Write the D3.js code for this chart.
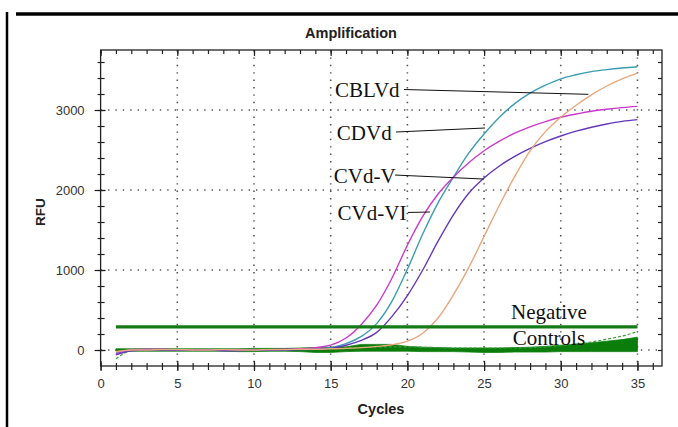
<!DOCTYPE html>
<html>
<head>
<meta charset="utf-8">
<script src="https://cdn.jsdelivr.net/npm/d3@7"></script>
<style>
  body { margin: 0; background: #fff; }
  svg { display: block; }
</style>
</head>
<body>
<script>
// cycles and RFU
var cycles = [1,2,3,4,5,6,7,8,9,10,11,12,13,14,15,16,17,18,19,20,21,22,23,24,25,26,27,28,29,30,31,32,33,34,35];

var cblvd = [-30,0,5,5,0,0,5,5,0,0,5,5,10,15,30,80,170,330,610,1010,1450,1840,2160,2460,2700,2910,3080,3210,3310,3390,3440,3480,3505,3525,3541];
var cdvd  = [-50,5,10,10,5,5,0,5,5,0,5,10,15,30,60,150,320,560,900,1310,1670,1950,2160,2340,2490,2610,2710,2790,2855,2910,2950,2985,3010,3030,3045];
var cvdV  = [-60,-10,0,0,-5,0,0,-10,-10,0,0,0,5,10,20,60,120,220,420,680,1000,1360,1690,1960,2150,2300,2420,2520,2605,2675,2735,2785,2825,2858,2880];
var cvdVI = [-20,0,0,5,5,0,0,5,0,0,5,5,10,10,15,20,30,45,65,110,210,400,690,1030,1420,1810,2170,2490,2730,2910,3060,3190,3300,3390,3460];

// negative controls: band low / high and the thin dashed one
var negLow  = [-15,-15,-15,-15,-15,-15,-15,-15,-20,-20,-15,-15,-20,-30,-30,-20,-15,-15,-15,-15,-20,-20,-20,-25,-30,-30,-25,-25,-25,-20,-20,-20,-20,-20,-20];
var negHigh = [15,15,15,15,15,15,15,15,15,20,20,20,25,30,35,40,70,70,70,45,35,30,25,25,25,25,30,35,45,60,75,90,110,130,160];
var negDash = [-110,-10,0,5,5,5,0,0,5,5,5,5,10,15,20,25,30,35,40,40,35,30,25,25,25,25,25,30,40,55,75,100,135,175,230];

var threshold = 290;

var xTicks = [0,5,10,15,20,25,30,35];
var yTicks = [0,1000,2000,3000];

var series = [
  {name: "CBLVd", values: cblvd, color: "#3a9db0"},
  {name: "CDVd", values: cdvd, color: "#cc3acc"},
  {name: "CVd-V", values: cvdV, color: "#6438bb"},
  {name: "CVd-VI", values: cvdVI, color: "#e9a77c"}
];

// label text, where the pointer starts and where it lands (cycle, RFU)
var labels = [
  {text: "CBLVd",  tx: 15.28, from: [19.78, 3256], to: [31.8, 3196]},
  {text: "CDVd",   tx: 15.4,  from: [19.26, 2725], to: [25.06, 2775]},
  {text: "CVd-V",  tx: 15.2,  from: [19.19, 2187], to: [24.99, 2137]},
  {text: "CVd-VI", tx: 15.45, from: [20.04, 1719], to: [21.47, 1725]}
];

var W = 678, H = 427;
var svg = d3.select("body").append("svg")
  .attr("width", W)
  .attr("height", H)

var x = d3.scaleLinear().domain([0, 36.6]).range([100.6, 662]);
var y = d3.scaleLinear().domain([-200, 3750]).range([366, 50]);

var sans = "Arial, 'Liberation Sans', sans-serif";
var serif = "'Times New Roman', 'Liberation Serif', serif";

// outer frame lines (left + top)
svg.append("line").attr("x1", 7).attr("x2", 7).attr("y1", 12).attr("y2", H)
  .attr("stroke", "#000").attr("stroke-width", 2.5);
svg.append("line").attr("x1", 16).attr("x2", W).attr("y1", 14).attr("y2", 14)
  .attr("stroke", "#000").attr("stroke-width", 3.5);

// grid
var grid = svg.append("g").attr("stroke", "#555").attr("stroke-width", 1.6)
  .attr("stroke-dasharray", "1.4,6").attr("stroke-linecap", "butt");
grid.selectAll(".gx").data(xTicks.filter(function(d){ return d > 0; }))
  .enter().append("line")
  .attr("x1", function(d){ return x(d); }).attr("x2", function(d){ return x(d); })
  .attr("y1", y.range()[1]).attr("y2", y.range()[0]);
grid.selectAll(".gy").data(yTicks)
  .enter().append("line")
  .attr("y1", function(d){ return y(d); }).attr("y2", function(d){ return y(d); })
  .attr("x1", x.range()[0]).attr("x2", x.range()[1]);

// negative controls
var idx = cycles.map(function(c, i){ return i; });
var band = d3.area()
  .x(function(i){ return x(cycles[i]); })
  .y0(function(i){ return y(negLow[i]); })
  .y1(function(i){ return y(negHigh[i]); });
svg.append("path").datum(idx).attr("d", band)
  .attr("fill", "#0b7d0b").attr("stroke", "#0b7d0b").attr("stroke-width", 0.8);

var line = d3.line().curve(d3.curveMonotoneX);
svg.append("path")
  .attr("d", line(cycles.map(function(c, i){ return [x(c), y(negDash[i])]; })))
  .attr("fill", "none").attr("stroke", "#3f9a3f").attr("stroke-width", 1.2)
  .attr("stroke-dasharray", "3,2");

// amplification curves
svg.selectAll(".curve").data(series).enter().append("path")
  .attr("class", "curve")
  .attr("d", function(s){
    return line(cycles.map(function(c, i){ return [x(c), y(s.values[i])]; }));
  })
  .attr("fill", "none")
  .attr("stroke", function(s){ return s.color; })
  .attr("stroke-width", 1.4);

// threshold
svg.append("line")
  .attr("x1", x(cycles[0])).attr("x2", x(cycles[cycles.length - 1]))
  .attr("y1", y(threshold)).attr("y2", y(threshold))
  .attr("stroke", "#157a15").attr("stroke-width", 3.2);

// pointer labels
var lab = svg.selectAll(".lab").data(labels).enter().append("g");
lab.append("line")
  .attr("x1", function(d){ return x(d.from[0]); }).attr("y1", function(d){ return y(d.from[1]); })
  .attr("x2", function(d){ return x(d.to[0]); }).attr("y2", function(d){ return y(d.to[1]); })
  .attr("stroke", "#111").attr("stroke-width", 1);
lab.append("text")
  .attr("x", function(d){ return x(d.tx); })
  .attr("y", function(d){ return y(d.from[1]) + 7.5; })
  .attr("font-family", serif).attr("font-size", 21).attr("fill", "#111")
  .text(function(d){ return d.text; });

svg.append("text").attr("x", x(29.23)).attr("y", y(390))
  .attr("text-anchor", "middle").attr("font-family", serif).attr("font-size", 21)
  .attr("fill", "#111").text("Negative");
svg.append("text").attr("x", x(29.23)).attr("y", y(65))
  .attr("text-anchor", "middle").attr("font-family", serif).attr("font-size", 21)
  .attr("fill", "#111").text("Controls");

// axes
var minorX = d3.range(0, 37, 1);
var minorY = d3.range(0, 3800, 200);

function styleAxis(g) {
  g.select(".domain").remove();
  g.selectAll("line").attr("stroke", "#222").attr("stroke-width", 1.2);
  g.selectAll("text").attr("font-family", sans).attr("font-size", 13).attr("fill", "#333");
}

var xAxis = svg.append("g").attr("transform", "translate(0," + y.range()[0] + ")")
  .call(d3.axisBottom(x).tickValues(xTicks).tickSize(5).tickPadding(8).tickFormat(d3.format("d")))
  .call(styleAxis);
xAxis.selectAll(".tick line").attr("y1", -5);
svg.append("g").attr("transform", "translate(0," + y.range()[0] + ")")
  .call(d3.axisBottom(x).tickValues(minorX).tickSize(4).tickFormat(""))
  .call(styleAxis)
  .selectAll(".tick line").attr("y1", -3);

var yAxis = svg.append("g").attr("transform", "translate(" + x.range()[0] + ",0)")
  .call(d3.axisLeft(y).tickValues(yTicks).tickSize(6).tickPadding(10).tickFormat(d3.format("d")))
  .call(styleAxis);
yAxis.selectAll(".tick line").attr("x1", 5);
svg.append("g").attr("transform", "translate(" + x.range()[0] + ",0)")
  .call(d3.axisLeft(y).tickValues(minorY).tickSize(3).tickFormat(""))
  .call(styleAxis)
  .selectAll(".tick line").attr("x1", 4);

// inward ticks on top and right
svg.append("g").attr("transform", "translate(0," + y.range()[1] + ")")
  .call(d3.axisTop(x).tickValues(minorX).tickSize(-4).tickFormat(""))
  .call(styleAxis);
svg.append("g").attr("transform", "translate(0," + y.range()[1] + ")")
  .call(d3.axisTop(x).tickValues(xTicks).tickSize(-6).tickFormat(""))
  .call(styleAxis);
svg.append("g").attr("transform", "translate(" + x.range()[1] + ",0)")
  .call(d3.axisRight(y).tickValues(minorY).tickSize(-4).tickFormat(""))
  .call(styleAxis);

// plot frame
svg.append("rect")
  .attr("x", x.range()[0]).attr("y", y.range()[1])
  .attr("width", x.range()[1] - x.range()[0]).attr("height", y.range()[0] - y.range()[1])
  .attr("fill", "none").attr("stroke", "#222").attr("stroke-width", 1.3);

// titles
svg.append("text").attr("x", 351).attr("y", 38).attr("text-anchor", "middle")
  .attr("font-family", sans).attr("font-weight", "bold").attr("font-size", 14.5)
  .attr("fill", "#222").text("Amplification");
svg.append("text").attr("x", 381).attr("y", 414).attr("text-anchor", "middle")
  .attr("font-family", sans).attr("font-weight", "bold").attr("font-size", 14.5)
  .attr("fill", "#222").text("Cycles");
svg.append("text").attr("transform", "translate(45,212) rotate(-90)")
  .attr("text-anchor", "middle")
  .attr("font-family", sans).attr("font-weight", "bold").attr("font-size", 13.5)
  .attr("fill", "#222").text("RFU");
</script>
</body>
</html>
